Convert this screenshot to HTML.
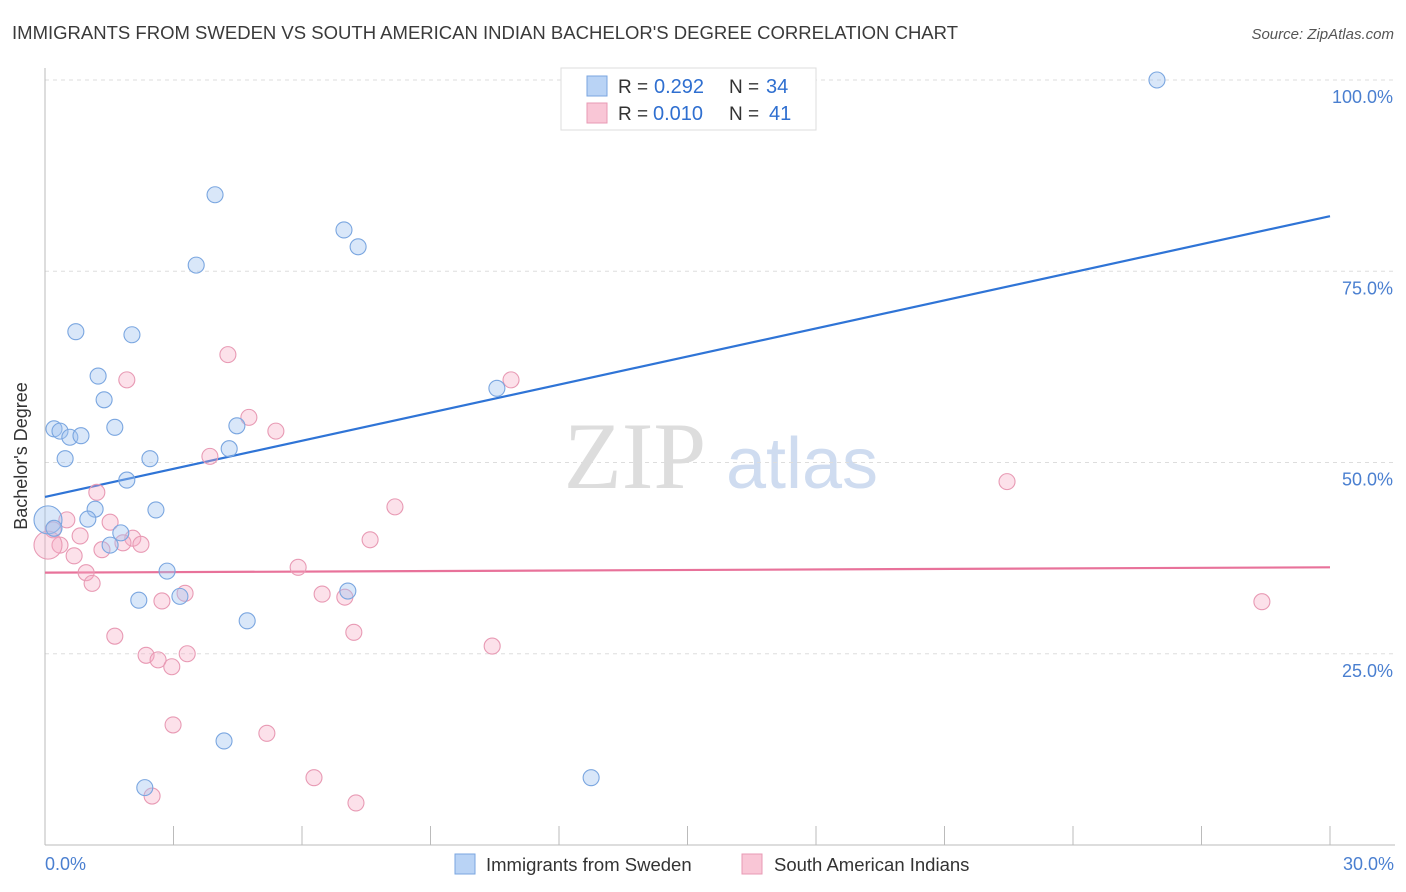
<!DOCTYPE html>
<html><head><meta charset="utf-8"><style>
body{margin:0;background:#fff;font-family:"Liberation Sans",sans-serif}
svg{display:block}
</style></head><body>
<svg width="1406" height="892" viewBox="0 0 1406 892">
<text x="12" y="39" font-size="18.6" fill="#3a3a3a" textLength="946" lengthAdjust="spacingAndGlyphs">IMMIGRANTS FROM SWEDEN VS SOUTH AMERICAN INDIAN BACHELOR'S DEGREE CORRELATION CHART</text>
<text x="1394" y="39" font-size="15" fill="#555" font-style="italic" text-anchor="end">Source: ZipAtlas.com</text>
<g>
<text x="635" y="488" font-size="95" fill="#ddd" font-family="Liberation Serif,serif" text-anchor="middle">ZIP</text>
<text x="802" y="488" font-size="72" fill="#cfdcf0" text-anchor="middle">atlas</text>
</g>
<g id="grid"></g>
<g id="axes"></g>
<g id="lines"></g>
<g id="pts"></g>
<text x="27" y="456" font-size="18" fill="#333" text-anchor="middle" transform="rotate(-90 27 456)">Bachelor's Degree</text>
<text x="45" y="870" font-size="18" fill="#4a7fd0">0.0%</text>
<text x="1394" y="870" font-size="18" fill="#4a7fd0" text-anchor="end">30.0%</text>
<g>
<rect x="561" y="68" width="255" height="62" fill="#fff" stroke="#ddd"/>
<rect x="587" y="76" width="20" height="20" fill="#b9d3f5" stroke="#7aa6e0"/>
<rect x="587" y="103" width="20" height="20" fill="#f9c6d6" stroke="#e89ab4"/>
<text x="618" y="93" font-size="19" fill="#333">R =</text>
<text x="654" y="93" font-size="20" fill="#2f6fd0">0.292</text>
<text x="729" y="93" font-size="19" fill="#333">N =</text>
<text x="766" y="93" font-size="20" fill="#2f6fd0">34</text>
<text x="618" y="120" font-size="19" fill="#333">R =</text>
<text x="653" y="120" font-size="20" fill="#2f6fd0">0.010</text>
<text x="729" y="120" font-size="19" fill="#333">N =</text>
<text x="769" y="120" font-size="20" fill="#2f6fd0">41</text>
</g>
<g>
<rect x="455" y="854" width="20" height="20" fill="#b9d3f5" stroke="#7aa6e0"/>
<text x="486" y="871" font-size="18.5" fill="#333">Immigrants from Sweden</text>
<rect x="742" y="854" width="20" height="20" fill="#f9c6d6" stroke="#e89ab4"/>
<text x="774" y="871" font-size="18.5" fill="#333">South American Indians</text>
</g>
</svg>
<script>
const yTicks=[25,50,75,100];
const yTickLabels=["25.0%","50.0%","75.0%","100.0%"];
const blueX=[25.96,3.97,6.98,7.31,3.53,0.72,2.03,1.24,1.38,10.55,0.21,0.35,1.63,4.48,0.58,0.84,0.47,2.45,4.30,1.91,2.59,1.17,1.00,1.77,1.52,0.07,0.21,2.85,2.19,3.15,7.07,4.72,4.18,2.33,12.75];
const blueY=[100,85.0,80.4,78.2,75.8,67.1,66.7,61.3,58.2,59.7,54.4,54.1,54.6,54.8,53.3,53.5,50.5,50.5,51.8,47.7,43.8,43.9,42.6,40.8,39.2,42.5,41.4,35.8,32.0,32.5,33.2,29.3,13.6,7.5,8.8];
const blueBig=[0,0,0,0,0,0,0,0,0,0,0,0,0,0,0,0,0,0,0,0,0,0,0,0,0,1,0,0,0,0,0,0,0,0,0];
const pinkX=[4.27,1.91,10.88,4.76,5.39,3.85,1.21,8.17,0.51,1.52,0.82,0.19,0.35,2.05,2.24,1.82,1.33,0.68,7.59,0.07,0.96,1.10,5.91,22.46,6.47,7.00,3.27,2.73,28.41,7.21,1.63,10.44,2.36,2.64,3.32,2.96,2.99,5.18,6.28,2.50,7.26];
const pinkY=[64.1,60.8,60.8,55.9,54.1,50.8,46.1,44.2,42.5,42.2,40.4,41.2,39.2,40.1,39.3,39.5,38.6,37.8,39.9,39.2,35.6,34.2,36.3,47.5,32.8,32.4,32.9,31.9,31.8,27.8,27.3,26.0,24.8,24.2,25.0,23.3,15.7,14.6,8.8,6.4,5.5];
const pinkBig=[0,0,0,0,0,0,0,0,0,0,0,0,0,0,0,0,0,0,0,1,0,0,0,0,0,0,0,0,0,0,0,0,0,0,0,0,0,0,0,0,0];
const blueLine=[45.5,82.2];
const pinkLine=[35.6,36.3];
const xMax=30;
const X=v=>45+v/xMax*1285, Y=v=>845-v*7.65;
const NS="http://www.w3.org/2000/svg";
function mk(t,a,p){const e=document.createElementNS(NS,t);for(const k in a)e.setAttribute(k,a[k]);p.appendChild(e);return e;}
const g=document.getElementById('grid'),ax=document.getElementById('axes'),ln=document.getElementById('lines'),pt=document.getElementById('pts');
yTicks.forEach((t,i)=>{
 const l=mk('line',{x1:45,x2:1395,y1:Y(t),y2:Y(t),stroke:'#ddd','stroke-dasharray':'4,4'},g);
 
 
 const tx=mk('text',{x:1393,y:Y(t)+23,'font-size':18,fill:'#4a7fd0','text-anchor':'end'},g);
 tx.textContent=yTickLabels[i];
 
 
});
const ya=mk('line',{x1:45,x2:45,y1:68,y2:845,stroke:'#bbb'},ax);


const xa=mk('line',{x1:45,x2:1395,y1:845,y2:845,stroke:'#bbb'},ax);


for(let i=0;i<=10;i++){const tk=mk('line',{x1:X(i*3),x2:X(i*3),y1:826,y2:845,stroke:'#bbb'},ax);
 
 }
function series(xs,ys,big,fill,stroke,name){xs.forEach((x,i)=>{
 const c=mk('circle',{cx:X(x),cy:Y(ys[i]),r:big[i]?14:8,fill:fill,stroke:stroke,'stroke-width':1.1},pt);
 
 });}
series(pinkX,pinkY,pinkBig,'rgba(245,170,195,0.35)','#e89ab4','point-south-american-indian');
series(blueX,blueY,blueBig,'rgba(160,195,240,0.4)','#7aa6e0','point-sweden');
const bl=mk('line',{x1:X(0),y1:Y(blueLine[0]),x2:X(xMax),y2:Y(blueLine[1]),stroke:'#2f74d6','stroke-width':2.2},ln);


const pl=mk('line',{x1:X(0),y1:Y(pinkLine[0]),x2:X(xMax),y2:Y(pinkLine[1]),stroke:'#e8729a','stroke-width':2.2},ln);


</script>
</body></html>
